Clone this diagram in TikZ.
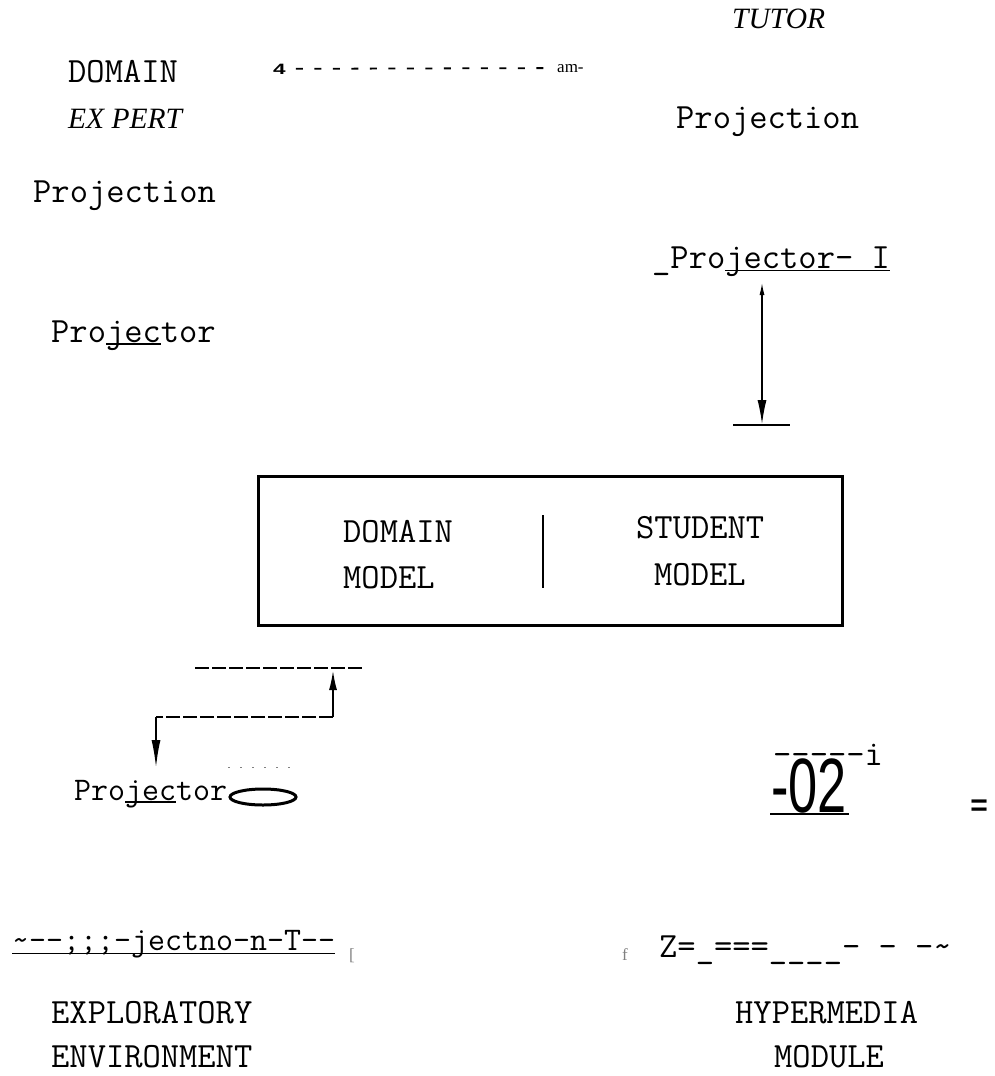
\documentclass[tikz,border=0pt]{standalone}
\usepackage{fontspec}
\setmainfont{Liberation Serif}
\newfontfamily\sansfont{Liberation Sans}
\usetikzlibrary{arrows.meta}
\newcommand{\myul}[3]{\setbox0\hbox{#3}\rlap{\rule[#1]{\wd0}{#2}}\box0}
\tikzset{
  mono/.style={font=\ttfamily\fontsize{35.5}{35.5}\selectfont, inner sep=0pt, anchor=base west},
  monos/.style={font=\ttfamily\fontsize{33}{33}\selectfont, inner sep=0pt, anchor=base west},
  ital/.style={font=\itshape\fontsize{29.5}{29.5}\selectfont, inner sep=0pt, anchor=base west},
  tiny/.style={font=\fontsize{17}{17}\selectfont, inner sep=0pt, anchor=base west},
  thickline/.style={line width=2.5pt, dash pattern=on 14pt off 3pt},
  conn/.style={line width=2pt}
}
\begin{document}
\begin{tikzpicture}[x=1pt,y=-1pt]
\useasboundingbox[fill=white] (0,0) rectangle (994,1076);

% top left
\node[ital] (tutor) at (732,28) {TUTOR};
\node[mono] (dom1) at (68,82) {DOMAIN};
\node[ital] (expert) at (68,128) {EX PERT};
\node[font=\sansfont\bfseries\fontsize{15}{15}\selectfont, inner sep=0pt, anchor=base west] (four) at (273,74) {\scalebox{1.5}[1]{4}};
\node[tiny] (am) at (557,72) {am-};
\draw[line width=1.8pt, dash pattern=on 7pt off 11.5pt, shorten <=10pt, shorten >=4pt] (four.east) -- (am.west);

\node[mono] (projR) at (676,128) {Projection};
\node[mono] (projL) at (33,202) {Projection};
\node[mono] (pjR) at (652,268) {\_Pro\myul{-3pt}{1.5pt}{jector- I}};
\node[mono] (pjL) at (51,342) {Pro\myul{-3pt}{2.2pt}{jec}tor};

% right arrow
\coordinate (rtop) at (762,283);
\coordinate (rbot) at (762,424);
\coordinate (barL) at (733,425);
\coordinate (barR) at (790,425);
\draw[line width=1.2pt, {Latex[length=12pt,width=5pt]}-{Latex[length=24pt,width=9pt]}] (rtop) -- (rbot);
\draw[line width=2pt] (barL) -- (barR);

% central box
\node[draw, line width=3pt, anchor=north west, minimum width=584pt, minimum height=149pt, inner sep=0pt] (box) at (256.5,474.5) {};
\coordinate (divT) at (543,515);
\coordinate (divB) at (543,588);
\draw[line width=2.5pt] (divT) -- (divB);
\node[mono] (dm) at (343,542) {DOMAIN};
\node[mono] (mm) at (343,588) {MODEL};
\node[mono] (sm) at (636,538) {STUDENT};
\node[mono] (sm2) at (654,585) {MODEL};

% bottom-left connector
\coordinate (t1) at (195,668);
\coordinate (t2) at (362,668);
\coordinate (u) at (333,670);
\coordinate (m) at (333,717);
\coordinate (l) at (156,717);
\coordinate (d) at (156,768);
\draw[thickline] (t1) -- (t2);
\draw[conn, {Latex[length=20pt,width=8pt]}-] (u) -- (m);
\draw[thickline] (m) -- (l);
\draw[conn, -{Latex[length=28pt,width=9pt]}] (l) -- (d);
\coordinate (dotL) at (228,767);
\coordinate (dotR) at (292,767);
\draw[gray, line width=0.8pt, dash pattern=on 2pt off 10pt] (dotL) -- (dotR);

\node[monos] (pjB) at (74,800) {Pro\myul{-3pt}{2pt}{jec}tor};
\draw[line width=3pt] (263,797) ellipse [x radius=33, y radius=8];

% -02
\node[mono] (dashi) at (773,765) {-{}-{}-{}-{}-i};
\node[font=\sansfont\fontsize{77}{77}\selectfont, inner sep=0pt, anchor=base west] (o2) at (771,812) {\scalebox{0.68}[1]{-02}};
\coordinate (o2L) at (770,814);
\coordinate (o2R) at (849,814);
\draw[line width=2.5pt] (o2L) -- (o2R);
\node[font=\sansfont\bfseries\fontsize{30}{30}\selectfont, inner sep=0pt] (eq) at (979,808) {=};

% bottom
\node[monos] (ulL) at (12,950) {\myul{-4pt}{1.5pt}{\textasciitilde-{}-;;;-jectno-n-T-{}-}};
\node[tiny, gray] (brk) at (349,960) {[};
\node[tiny, gray] (ff) at (622,960) {f};
\node[mono] (zz) at (659,957) {Z=\_===\_\_\_\_- - -\textasciitilde};

\node[mono] (expl) at (51,1023) {EXPLORATORY};
\node[mono] (env) at (51,1067) {ENVIRONMENT};
\node[mono] (hyp) at (735,1023) {HYPERMEDIA};
\node[mono] (mod) at (774,1067) {MODULE};
\end{tikzpicture}
\end{document}
